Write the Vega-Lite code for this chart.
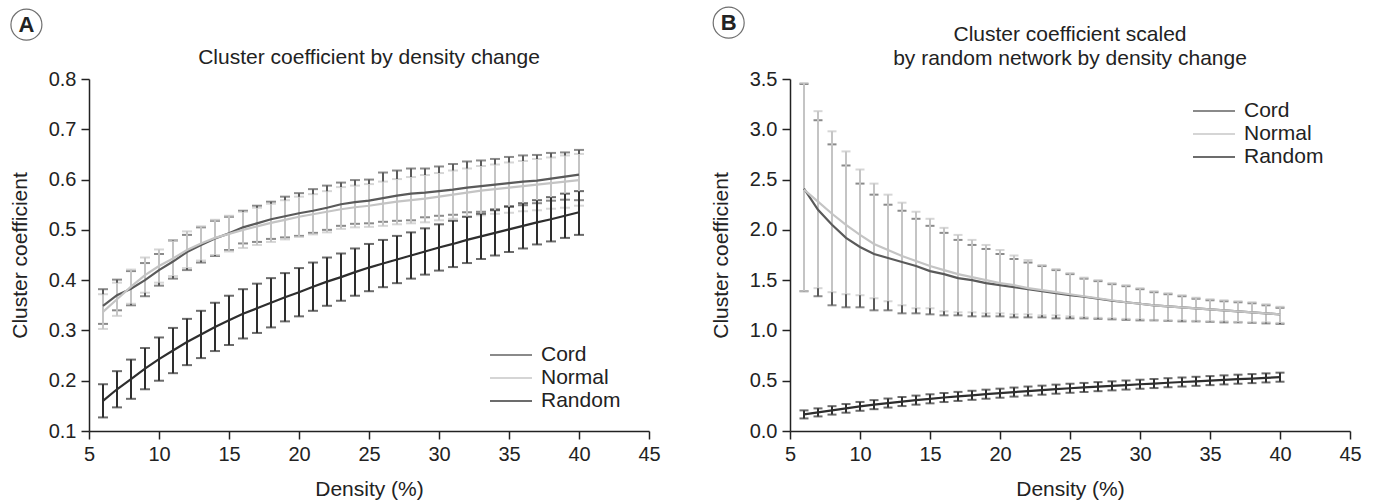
{
  "$schema": "https://vega.github.io/schema/vega-lite/v6.json",
  "padding": {"left": 8, "top": 4, "right": 5, "bottom": 5},
  "background": "white",
  "config": {
    "font": "Liberation Sans",
    "view": {"stroke": null},
    "axis": {"grid": false, "domainColor": "#222", "tickColor": "#222", "domainWidth": 1.5, "tickWidth": 1.5, "tickSize": 8, "labelFontSize": 20, "labelColor": "#222", "titleFontSize": 21, "titleFontWeight": "normal", "titleColor": "#222", "labelFlush": false, "labelOverlap": false},
    "axisX": {"labelPadding": 5, "titlePadding": 14},
    "axisY": {"labelPadding": 5, "titlePadding": 18},
    "title": {"fontSize": 21, "fontWeight": "normal", "color": "#222", "lineHeight": 24, "offset": -61, "anchor": "middle"},
    "legend": {"orient": "none", "title": null, "symbolType": "M-1.75,0H1.75", "symbolSize": 576, "symbolStrokeWidth": 2, "labelFontSize": 21, "labelColor": "#222", "labelOffset": 17, "rowPadding": 0, "padding": 0}
  },
  "datasets": {
    "a": [
      {"g":"Cord","d":6,"m":0.349,"lo":0.313,"hi":0.382},
      {"g":"Cord","d":7,"m":0.370,"lo":0.340,"hi":0.401},
      {"g":"Cord","d":8,"m":0.383,"lo":0.350,"hi":0.418},
      {"g":"Cord","d":9,"m":0.400,"lo":0.368,"hi":0.434},
      {"g":"Cord","d":10,"m":0.420,"lo":0.389,"hi":0.452},
      {"g":"Cord","d":11,"m":0.437,"lo":0.403,"hi":0.479},
      {"g":"Cord","d":12,"m":0.456,"lo":0.420,"hi":0.490},
      {"g":"Cord","d":13,"m":0.470,"lo":0.435,"hi":0.505},
      {"g":"Cord","d":14,"m":0.483,"lo":0.448,"hi":0.518},
      {"g":"Cord","d":15,"m":0.493,"lo":0.460,"hi":0.526},
      {"g":"Cord","d":16,"m":0.505,"lo":0.473,"hi":0.538},
      {"g":"Cord","d":17,"m":0.513,"lo":0.476,"hi":0.548},
      {"g":"Cord","d":18,"m":0.521,"lo":0.482,"hi":0.556},
      {"g":"Cord","d":19,"m":0.527,"lo":0.485,"hi":0.566},
      {"g":"Cord","d":20,"m":0.533,"lo":0.488,"hi":0.573},
      {"g":"Cord","d":21,"m":0.538,"lo":0.494,"hi":0.581},
      {"g":"Cord","d":22,"m":0.544,"lo":0.500,"hi":0.588},
      {"g":"Cord","d":23,"m":0.551,"lo":0.508,"hi":0.594},
      {"g":"Cord","d":24,"m":0.555,"lo":0.512,"hi":0.599},
      {"g":"Cord","d":25,"m":0.558,"lo":0.513,"hi":0.600},
      {"g":"Cord","d":26,"m":0.563,"lo":0.516,"hi":0.614},
      {"g":"Cord","d":27,"m":0.568,"lo":0.518,"hi":0.618},
      {"g":"Cord","d":28,"m":0.572,"lo":0.519,"hi":0.622},
      {"g":"Cord","d":29,"m":0.574,"lo":0.525,"hi":0.622},
      {"g":"Cord","d":30,"m":0.577,"lo":0.528,"hi":0.626},
      {"g":"Cord","d":31,"m":0.580,"lo":0.530,"hi":0.631},
      {"g":"Cord","d":32,"m":0.584,"lo":0.535,"hi":0.636},
      {"g":"Cord","d":33,"m":0.587,"lo":0.536,"hi":0.638},
      {"g":"Cord","d":34,"m":0.590,"lo":0.541,"hi":0.641},
      {"g":"Cord","d":35,"m":0.593,"lo":0.547,"hi":0.645},
      {"g":"Cord","d":36,"m":0.596,"lo":0.549,"hi":0.648},
      {"g":"Cord","d":37,"m":0.598,"lo":0.553,"hi":0.649},
      {"g":"Cord","d":38,"m":0.602,"lo":0.558,"hi":0.653},
      {"g":"Cord","d":39,"m":0.606,"lo":0.560,"hi":0.654},
      {"g":"Cord","d":40,"m":0.610,"lo":0.559,"hi":0.659},
      {"g":"Normal","d":6,"m":0.337,"lo":0.303,"hi":0.372},
      {"g":"Normal","d":7,"m":0.362,"lo":0.329,"hi":0.395},
      {"g":"Normal","d":8,"m":0.387,"lo":0.353,"hi":0.421},
      {"g":"Normal","d":9,"m":0.410,"lo":0.375,"hi":0.445},
      {"g":"Normal","d":10,"m":0.428,"lo":0.395,"hi":0.461},
      {"g":"Normal","d":11,"m":0.443,"lo":0.408,"hi":0.478},
      {"g":"Normal","d":12,"m":0.460,"lo":0.424,"hi":0.497},
      {"g":"Normal","d":13,"m":0.473,"lo":0.439,"hi":0.507},
      {"g":"Normal","d":14,"m":0.484,"lo":0.450,"hi":0.520},
      {"g":"Normal","d":15,"m":0.492,"lo":0.457,"hi":0.528},
      {"g":"Normal","d":16,"m":0.500,"lo":0.464,"hi":0.536},
      {"g":"Normal","d":17,"m":0.507,"lo":0.470,"hi":0.544},
      {"g":"Normal","d":18,"m":0.514,"lo":0.476,"hi":0.552},
      {"g":"Normal","d":19,"m":0.520,"lo":0.481,"hi":0.559},
      {"g":"Normal","d":20,"m":0.526,"lo":0.486,"hi":0.566},
      {"g":"Normal","d":21,"m":0.531,"lo":0.491,"hi":0.571},
      {"g":"Normal","d":22,"m":0.536,"lo":0.495,"hi":0.577},
      {"g":"Normal","d":23,"m":0.541,"lo":0.502,"hi":0.585},
      {"g":"Normal","d":24,"m":0.545,"lo":0.505,"hi":0.588},
      {"g":"Normal","d":25,"m":0.548,"lo":0.506,"hi":0.591},
      {"g":"Normal","d":26,"m":0.552,"lo":0.508,"hi":0.596},
      {"g":"Normal","d":27,"m":0.556,"lo":0.511,"hi":0.601},
      {"g":"Normal","d":28,"m":0.559,"lo":0.513,"hi":0.605},
      {"g":"Normal","d":29,"m":0.562,"lo":0.515,"hi":0.609},
      {"g":"Normal","d":30,"m":0.566,"lo":0.519,"hi":0.613},
      {"g":"Normal","d":31,"m":0.570,"lo":0.522,"hi":0.618},
      {"g":"Normal","d":32,"m":0.574,"lo":0.526,"hi":0.622},
      {"g":"Normal","d":33,"m":0.578,"lo":0.529,"hi":0.627},
      {"g":"Normal","d":34,"m":0.581,"lo":0.532,"hi":0.630},
      {"g":"Normal","d":35,"m":0.584,"lo":0.534,"hi":0.634},
      {"g":"Normal","d":36,"m":0.587,"lo":0.537,"hi":0.637},
      {"g":"Normal","d":37,"m":0.590,"lo":0.539,"hi":0.641},
      {"g":"Normal","d":38,"m":0.593,"lo":0.542,"hi":0.644},
      {"g":"Normal","d":39,"m":0.596,"lo":0.544,"hi":0.648},
      {"g":"Normal","d":40,"m":0.599,"lo":0.548,"hi":0.651},
      {"g":"Random","d":6,"m":0.160,"lo":0.127,"hi":0.193},
      {"g":"Random","d":7,"m":0.183,"lo":0.147,"hi":0.219},
      {"g":"Random","d":8,"m":0.203,"lo":0.164,"hi":0.242},
      {"g":"Random","d":9,"m":0.224,"lo":0.183,"hi":0.265},
      {"g":"Random","d":10,"m":0.243,"lo":0.200,"hi":0.286},
      {"g":"Random","d":11,"m":0.260,"lo":0.215,"hi":0.305},
      {"g":"Random","d":12,"m":0.277,"lo":0.231,"hi":0.323},
      {"g":"Random","d":13,"m":0.292,"lo":0.245,"hi":0.339},
      {"g":"Random","d":14,"m":0.307,"lo":0.259,"hi":0.355},
      {"g":"Random","d":15,"m":0.320,"lo":0.271,"hi":0.369},
      {"g":"Random","d":16,"m":0.333,"lo":0.284,"hi":0.382},
      {"g":"Random","d":17,"m":0.344,"lo":0.295,"hi":0.393},
      {"g":"Random","d":18,"m":0.355,"lo":0.306,"hi":0.404},
      {"g":"Random","d":19,"m":0.366,"lo":0.318,"hi":0.414},
      {"g":"Random","d":20,"m":0.376,"lo":0.328,"hi":0.424},
      {"g":"Random","d":21,"m":0.387,"lo":0.339,"hi":0.435},
      {"g":"Random","d":22,"m":0.397,"lo":0.349,"hi":0.445},
      {"g":"Random","d":23,"m":0.406,"lo":0.359,"hi":0.453},
      {"g":"Random","d":24,"m":0.416,"lo":0.369,"hi":0.463},
      {"g":"Random","d":25,"m":0.425,"lo":0.378,"hi":0.472},
      {"g":"Random","d":26,"m":0.433,"lo":0.386,"hi":0.480},
      {"g":"Random","d":27,"m":0.441,"lo":0.394,"hi":0.488},
      {"g":"Random","d":28,"m":0.449,"lo":0.403,"hi":0.495},
      {"g":"Random","d":29,"m":0.457,"lo":0.411,"hi":0.503},
      {"g":"Random","d":30,"m":0.465,"lo":0.419,"hi":0.511},
      {"g":"Random","d":31,"m":0.472,"lo":0.426,"hi":0.518},
      {"g":"Random","d":32,"m":0.480,"lo":0.434,"hi":0.526},
      {"g":"Random","d":33,"m":0.487,"lo":0.442,"hi":0.532},
      {"g":"Random","d":34,"m":0.494,"lo":0.449,"hi":0.539},
      {"g":"Random","d":35,"m":0.501,"lo":0.456,"hi":0.546},
      {"g":"Random","d":36,"m":0.508,"lo":0.463,"hi":0.553},
      {"g":"Random","d":37,"m":0.515,"lo":0.471,"hi":0.559},
      {"g":"Random","d":38,"m":0.521,"lo":0.477,"hi":0.565},
      {"g":"Random","d":39,"m":0.528,"lo":0.484,"hi":0.572},
      {"g":"Random","d":40,"m":0.535,"lo":0.490,"hi":0.577}
    ],
    "b": [
      {"g":"Cord","d":6,"m":2.41,"lo":1.39,"hi":3.45},
      {"g":"Cord","d":7,"m":2.20,"lo":1.34,"hi":3.09},
      {"g":"Cord","d":8,"m":2.05,"lo":1.25,"hi":2.85},
      {"g":"Cord","d":9,"m":1.92,"lo":1.23,"hi":2.64},
      {"g":"Cord","d":10,"m":1.83,"lo":1.23,"hi":2.46},
      {"g":"Cord","d":11,"m":1.76,"lo":1.20,"hi":2.35},
      {"g":"Cord","d":12,"m":1.72,"lo":1.20,"hi":2.25},
      {"g":"Cord","d":13,"m":1.68,"lo":1.17,"hi":2.19},
      {"g":"Cord","d":14,"m":1.64,"lo":1.17,"hi":2.11},
      {"g":"Cord","d":15,"m":1.59,"lo":1.16,"hi":2.04},
      {"g":"Cord","d":16,"m":1.56,"lo":1.15,"hi":1.97},
      {"g":"Cord","d":17,"m":1.52,"lo":1.15,"hi":1.90},
      {"g":"Cord","d":18,"m":1.50,"lo":1.14,"hi":1.85},
      {"g":"Cord","d":19,"m":1.47,"lo":1.14,"hi":1.81},
      {"g":"Cord","d":20,"m":1.45,"lo":1.14,"hi":1.76},
      {"g":"Cord","d":21,"m":1.43,"lo":1.13,"hi":1.71},
      {"g":"Cord","d":22,"m":1.41,"lo":1.13,"hi":1.675},
      {"g":"Cord","d":23,"m":1.39,"lo":1.13,"hi":1.64},
      {"g":"Cord","d":24,"m":1.37,"lo":1.12,"hi":1.60},
      {"g":"Cord","d":25,"m":1.35,"lo":1.12,"hi":1.56},
      {"g":"Cord","d":26,"m":1.335,"lo":1.12,"hi":1.515},
      {"g":"Cord","d":27,"m":1.315,"lo":1.115,"hi":1.49},
      {"g":"Cord","d":28,"m":1.295,"lo":1.11,"hi":1.46},
      {"g":"Cord","d":29,"m":1.28,"lo":1.105,"hi":1.44},
      {"g":"Cord","d":30,"m":1.265,"lo":1.10,"hi":1.41},
      {"g":"Cord","d":31,"m":1.25,"lo":1.10,"hi":1.38},
      {"g":"Cord","d":32,"m":1.24,"lo":1.095,"hi":1.36},
      {"g":"Cord","d":33,"m":1.23,"lo":1.09,"hi":1.34},
      {"g":"Cord","d":34,"m":1.22,"lo":1.09,"hi":1.315},
      {"g":"Cord","d":35,"m":1.21,"lo":1.085,"hi":1.30},
      {"g":"Cord","d":36,"m":1.20,"lo":1.08,"hi":1.29},
      {"g":"Cord","d":37,"m":1.19,"lo":1.08,"hi":1.28},
      {"g":"Cord","d":38,"m":1.18,"lo":1.075,"hi":1.27},
      {"g":"Cord","d":39,"m":1.17,"lo":1.07,"hi":1.25},
      {"g":"Cord","d":40,"m":1.16,"lo":1.065,"hi":1.225},
      {"g":"Normal","d":6,"m":2.40,"lo":1.39,"hi":3.46},
      {"g":"Normal","d":7,"m":2.28,"lo":1.42,"hi":3.18},
      {"g":"Normal","d":8,"m":2.16,"lo":1.38,"hi":2.98},
      {"g":"Normal","d":9,"m":2.05,"lo":1.36,"hi":2.78},
      {"g":"Normal","d":10,"m":1.95,"lo":1.35,"hi":2.60},
      {"g":"Normal","d":11,"m":1.86,"lo":1.32,"hi":2.46},
      {"g":"Normal","d":12,"m":1.80,"lo":1.29,"hi":2.35},
      {"g":"Normal","d":13,"m":1.74,"lo":1.25,"hi":2.27},
      {"g":"Normal","d":14,"m":1.69,"lo":1.22,"hi":2.18},
      {"g":"Normal","d":15,"m":1.64,"lo":1.22,"hi":2.11},
      {"g":"Normal","d":16,"m":1.60,"lo":1.19,"hi":2.02},
      {"g":"Normal","d":17,"m":1.56,"lo":1.18,"hi":1.95},
      {"g":"Normal","d":18,"m":1.53,"lo":1.18,"hi":1.90},
      {"g":"Normal","d":19,"m":1.50,"lo":1.17,"hi":1.85},
      {"g":"Normal","d":20,"m":1.47,"lo":1.17,"hi":1.80},
      {"g":"Normal","d":21,"m":1.45,"lo":1.16,"hi":1.745},
      {"g":"Normal","d":22,"m":1.42,"lo":1.16,"hi":1.70},
      {"g":"Normal","d":23,"m":1.40,"lo":1.15,"hi":1.65},
      {"g":"Normal","d":24,"m":1.38,"lo":1.15,"hi":1.61},
      {"g":"Normal","d":25,"m":1.36,"lo":1.14,"hi":1.57},
      {"g":"Normal","d":26,"m":1.34,"lo":1.13,"hi":1.525},
      {"g":"Normal","d":27,"m":1.32,"lo":1.125,"hi":1.50},
      {"g":"Normal","d":28,"m":1.30,"lo":1.12,"hi":1.47},
      {"g":"Normal","d":29,"m":1.28,"lo":1.115,"hi":1.45},
      {"g":"Normal","d":30,"m":1.265,"lo":1.11,"hi":1.42},
      {"g":"Normal","d":31,"m":1.25,"lo":1.105,"hi":1.39},
      {"g":"Normal","d":32,"m":1.24,"lo":1.10,"hi":1.37},
      {"g":"Normal","d":33,"m":1.23,"lo":1.10,"hi":1.35},
      {"g":"Normal","d":34,"m":1.22,"lo":1.095,"hi":1.325},
      {"g":"Normal","d":35,"m":1.21,"lo":1.09,"hi":1.31},
      {"g":"Normal","d":36,"m":1.20,"lo":1.09,"hi":1.30},
      {"g":"Normal","d":37,"m":1.19,"lo":1.085,"hi":1.29},
      {"g":"Normal","d":38,"m":1.18,"lo":1.08,"hi":1.28},
      {"g":"Normal","d":39,"m":1.17,"lo":1.08,"hi":1.26},
      {"g":"Normal","d":40,"m":1.16,"lo":1.075,"hi":1.235},
      {"g":"Random","d":6,"m":0.165,"lo":0.125,"hi":0.205},
      {"g":"Random","d":7,"m":0.185,"lo":0.145,"hi":0.225},
      {"g":"Random","d":8,"m":0.205,"lo":0.163,"hi":0.247},
      {"g":"Random","d":9,"m":0.225,"lo":0.182,"hi":0.268},
      {"g":"Random","d":10,"m":0.245,"lo":0.201,"hi":0.289},
      {"g":"Random","d":11,"m":0.262,"lo":0.217,"hi":0.307},
      {"g":"Random","d":12,"m":0.278,"lo":0.233,"hi":0.323},
      {"g":"Random","d":13,"m":0.293,"lo":0.248,"hi":0.338},
      {"g":"Random","d":14,"m":0.307,"lo":0.262,"hi":0.352},
      {"g":"Random","d":15,"m":0.320,"lo":0.275,"hi":0.365},
      {"g":"Random","d":16,"m":0.333,"lo":0.288,"hi":0.378},
      {"g":"Random","d":17,"m":0.344,"lo":0.299,"hi":0.389},
      {"g":"Random","d":18,"m":0.355,"lo":0.310,"hi":0.400},
      {"g":"Random","d":19,"m":0.366,"lo":0.321,"hi":0.411},
      {"g":"Random","d":20,"m":0.376,"lo":0.331,"hi":0.421},
      {"g":"Random","d":21,"m":0.387,"lo":0.342,"hi":0.432},
      {"g":"Random","d":22,"m":0.397,"lo":0.352,"hi":0.442},
      {"g":"Random","d":23,"m":0.406,"lo":0.361,"hi":0.451},
      {"g":"Random","d":24,"m":0.416,"lo":0.371,"hi":0.461},
      {"g":"Random","d":25,"m":0.425,"lo":0.380,"hi":0.470},
      {"g":"Random","d":26,"m":0.433,"lo":0.388,"hi":0.478},
      {"g":"Random","d":27,"m":0.441,"lo":0.396,"hi":0.486},
      {"g":"Random","d":28,"m":0.449,"lo":0.404,"hi":0.494},
      {"g":"Random","d":29,"m":0.457,"lo":0.412,"hi":0.502},
      {"g":"Random","d":30,"m":0.465,"lo":0.420,"hi":0.510},
      {"g":"Random","d":31,"m":0.472,"lo":0.427,"hi":0.517},
      {"g":"Random","d":32,"m":0.480,"lo":0.435,"hi":0.525},
      {"g":"Random","d":33,"m":0.487,"lo":0.442,"hi":0.532},
      {"g":"Random","d":34,"m":0.494,"lo":0.449,"hi":0.539},
      {"g":"Random","d":35,"m":0.501,"lo":0.456,"hi":0.546},
      {"g":"Random","d":36,"m":0.508,"lo":0.463,"hi":0.553},
      {"g":"Random","d":37,"m":0.515,"lo":0.470,"hi":0.560},
      {"g":"Random","d":38,"m":0.521,"lo":0.476,"hi":0.566},
      {"g":"Random","d":39,"m":0.528,"lo":0.483,"hi":0.573},
      {"g":"Random","d":40,"m":0.535,"lo":0.490,"hi":0.580}
    ]
  },
  "spacing": 49,
  "resolve": {"scale": {"color": "independent"}, "legend": {"color": "independent"}},
  "hconcat": [
    {
      "width": 560,
      "height": 352,
      "title": {"text": ["", "Cluster coefficient by density change"]},
      "layer": [
        {
          "data": {"name": "a"},
          "mark": {"type": "errorbar", "thickness": 2, "ticks": {"size": 10}},
          "encoding": {
            "x": {"field": "d", "type": "quantitative", "scale": {"domain": [5, 45], "nice": false, "zero": false}, "axis": {"values": [5,10,15,20,25,30,35,40,45], "title": "Density (%)"}},
            "y": {"field": "lo", "type": "quantitative", "scale": {"domain": [0.1, 0.8], "nice": false, "zero": false}, "axis": {"values": [0.1,0.2,0.3,0.4,0.5,0.6,0.7,0.8], "format": ".1f", "title": "Cluster coefficient"}},
            "y2": {"field": "hi"},
            "color": {"field": "g", "type": "nominal", "scale": {"domain": ["Cord", "Normal", "Random"], "range": ["#5a5a5a", "#c4c4c4", "#2e2e2e"]}, "legend": {"legendX": 409, "legendY": 263}}
          }
        },
        {
          "data": {"name": "a"},
          "mark": {"type": "line", "strokeWidth": 2.2},
          "encoding": {
            "x": {"field": "d", "type": "quantitative"},
            "y": {"field": "m", "type": "quantitative"},
            "color": {"field": "g", "type": "nominal", "legend": {"legendX": 409, "legendY": 263}}
          }
        },
        {
          "data": {"values": [{}]},
          "mark": {"type": "point", "shape": "circle", "size": 960, "filled": false, "stroke": "#333", "strokeWidth": 1.2, "clip": false},
          "encoding": {"x": {"datum": 0.53, "type": "quantitative"}, "y": {"datum": 0.908, "type": "quantitative"}}
        },
        {
          "data": {"values": [{}]},
          "mark": {"type": "text", "text": "A", "fontSize": 22, "fontWeight": "bold", "color": "#222", "align": "center", "baseline": "middle", "clip": false},
          "encoding": {"x": {"datum": 0.53, "type": "quantitative"}, "y": {"datum": 0.908, "type": "quantitative"}}
        }
      ]
    },
    {
      "width": 560,
      "height": 352,
      "title": {"text": ["Cluster coefficient scaled", "by random network by density change"], "offset": -64},
      "layer": [
        {
          "data": {"name": "b"},
          "mark": {"type": "errorbar", "thickness": 2, "ticks": {"size": 9}},
          "encoding": {
            "x": {"field": "d", "type": "quantitative", "scale": {"domain": [5, 45], "nice": false, "zero": false}, "axis": {"values": [5,10,15,20,25,30,35,40,45], "title": "Density (%)"}},
            "y": {"field": "lo", "type": "quantitative", "scale": {"domain": [0, 3.5], "nice": false, "zero": false}, "axis": {"values": [0,0.5,1,1.5,2,2.5,3,3.5], "format": ".1f", "title": "Cluster coefficient"}},
            "y2": {"field": "hi"},
            "color": {"field": "g", "type": "nominal", "scale": {"domain": ["Cord", "Normal", "Random"], "range": ["#5a5a5a", "#c4c4c4", "#2e2e2e"]}, "legend": {"legendX": 411, "legendY": 19}}
          }
        },
        {
          "data": {"name": "b"},
          "mark": {"type": "line", "strokeWidth": 2.2},
          "encoding": {
            "x": {"field": "d", "type": "quantitative"},
            "y": {"field": "m", "type": "quantitative"},
            "color": {"field": "g", "type": "nominal", "legend": {"legendX": 411, "legendY": 19}}
          }
        },
        {
          "data": {"values": [{}]},
          "mark": {"type": "point", "shape": "circle", "size": 960, "filled": false, "stroke": "#333", "strokeWidth": 1.2, "clip": false},
          "encoding": {"x": {"datum": 0.62, "type": "quantitative"}, "y": {"datum": 4.06, "type": "quantitative"}}
        },
        {
          "data": {"values": [{}]},
          "mark": {"type": "text", "text": "B", "fontSize": 22, "fontWeight": "bold", "color": "#222", "align": "center", "baseline": "middle", "clip": false},
          "encoding": {"x": {"datum": 0.62, "type": "quantitative"}, "y": {"datum": 4.06, "type": "quantitative"}}
        }
      ]
    }
  ]
}
